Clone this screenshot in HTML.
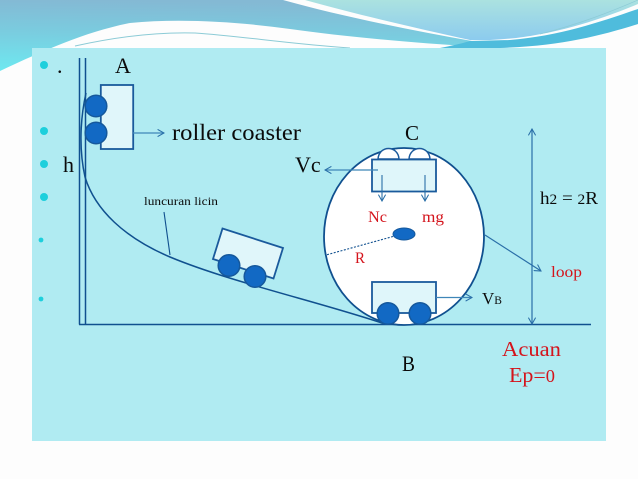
<!DOCTYPE html>
<html>
<head>
<meta charset="utf-8">
<style>
html,body{margin:0;padding:0;background:#fdfdfd;}
svg{display:block;}
text{font-family:"Liberation Serif",serif;}
</style>
</head>
<body>
<svg width="638" height="479" viewBox="0 0 638 479" xmlns="http://www.w3.org/2000/svg">
<defs>
<linearGradient id="g1" x1="0.15" y1="0" x2="0.05" y2="1">
<stop offset="0" stop-color="#84b9d4"/><stop offset="0.45" stop-color="#7accdf"/><stop offset="1" stop-color="#6ee8f0"/>
</linearGradient>
<linearGradient id="g2" x1="0" y1="0" x2="0" y2="1">
<stop offset="0" stop-color="#abe2e0"/><stop offset="1" stop-color="#8ccbee"/>
</linearGradient>
<marker id="a" viewBox="0 0 10 10" refX="9" refY="5" markerWidth="8" markerHeight="8" markerUnits="userSpaceOnUse" orient="auto-start-reverse">
<path d="M1 0.5L9 5L1 9.5" fill="none" stroke="#2a6fa8" stroke-width="1.3"/>
</marker>
</defs>
<rect width="638" height="479" fill="#fdfdfd"/>
<path d="M0 0H283C340 16 410 30 472 41L480 47C400 42 340 36 290 29C240 22 180 18 130 23C85 32 45 50 0 71Z" fill="url(#g1)"/>
<path d="M305 0H638V4C590 24 540 38 490 40H470C415 28 355 14 305 0Z" fill="url(#g2)"/>
<path d="M470 41L510 40C560 36 600 22 638 9V24C600 36 560 46 500 48H440C450 46 460 44 470 41Z" fill="#4fbcdc"/>
<path d="M75 46C120 36 160 32 195 33C240 36 290 44 350 48" fill="none" stroke="#8ccbd6" stroke-width="1"/>
<path d="M540 34C580 24 610 12 638 0" fill="none" stroke="#8ccbd6" stroke-width="0.7"/>
<rect x="32" y="48" width="574" height="393" fill="#b0ebf2"/>

<g fill="#1dcfdc">
<circle cx="44" cy="65" r="4"/><circle cx="44" cy="131" r="4"/><circle cx="44" cy="164" r="4"/><circle cx="44" cy="197" r="4"/>
<circle cx="41" cy="240" r="2.4"/><circle cx="41" cy="299" r="2.4"/>
</g>

<g fill="none" stroke="#10508f" stroke-width="1.5">
<path d="M79.500 58V324.500M85.500 58V324.500M79 324.500H591"/>
<path d="M86 93C80 120 79 150 85 177C95 210 125 238 170 257C230 282 320 302 385 324"/>
<path d="M164 212L170 255" stroke-width="1.100"/>
</g>

<!-- Cart A -->
<rect x="100.800" y="85" width="32.400" height="64" fill="#e0f6fa" stroke="#1a5a9c" stroke-width="1.800"/>
<g fill="#1269c4" stroke="#15589c" stroke-width="1.500">
<circle cx="96" cy="106" r="10.800"/><circle cx="96" cy="133" r="10.800"/>
</g>
<line x1="133" y1="133" x2="164" y2="133" stroke="#3f86b8" stroke-width="1.300" marker-end="url(#a)"/>

<!-- Tilted cart -->
<path d="M222.500 228.500L283 248L273.500 278.500L213 259Z" fill="#e0f6fa" stroke="#1a5a9c" stroke-width="1.800"/>
<g fill="#1269c4" stroke="#15589c" stroke-width="1.500">
<circle cx="229" cy="265.500" r="10.800"/><circle cx="255" cy="276.500" r="10.800"/>
</g>

<!-- Loop -->
<ellipse cx="404" cy="236.500" rx="80" ry="88.500" fill="#fff" stroke="#10508f" stroke-width="1.800"/>
<path d="M378 159C379 145 398 145 399 159ZM409 159C410 145 429 145 430 159Z" fill="#fff" stroke="#1a5a9c" stroke-width="1.500"/>
<rect x="372" y="159.500" width="64" height="32" fill="#dff6fa" stroke="#1a5a9c" stroke-width="1.800"/>
<line x1="378" y1="170" x2="325" y2="170" stroke="#3f86b8" stroke-width="1.200" marker-end="url(#a)"/>
<line x1="382" y1="175" x2="382" y2="201" stroke="#2a6fa8" stroke-width="1.100" marker-end="url(#a)"/>
<line x1="425" y1="175" x2="425" y2="201" stroke="#2a6fa8" stroke-width="1.100" marker-end="url(#a)"/>
<ellipse cx="404" cy="234" rx="11" ry="6" fill="#1269c4" stroke="#15589c"/>
<line x1="393" y1="236.500" x2="326" y2="255" stroke="#10508f" stroke-width="1.100" stroke-dasharray="2 1.500"/>

<!-- Cart B -->
<rect x="372" y="282" width="64" height="31" fill="#dff6fa" stroke="#1a5a9c" stroke-width="1.800"/>
<g fill="#1269c4" stroke="#15589c" stroke-width="1.500">
<circle cx="388" cy="313.500" r="10.800"/><circle cx="420" cy="313.500" r="10.800"/>
</g>
<line x1="436" y1="297.500" x2="472" y2="297.500" stroke="#3f86b8" stroke-width="1.200" marker-end="url(#a)"/>

<line x1="532" y1="129" x2="532" y2="324" stroke="#2a6fa8" stroke-width="1.200" marker-start="url(#a)" marker-end="url(#a)"/>
<line x1="485" y1="235" x2="541" y2="271" stroke="#2a6fa8" stroke-width="1.200" marker-end="url(#a)"/>

<g fill="#0b0b0b">
<text x="57" y="73" font-size="22">.</text>
<text x="115" y="73" font-size="22">A</text>
<text x="172" y="140" font-size="23" textLength="129" lengthAdjust="spacingAndGlyphs">roller coaster</text>
<text x="405" y="140" font-size="21.500" textLength="14" lengthAdjust="spacingAndGlyphs">C</text>
<text x="63" y="172" font-size="22">h</text>
<text x="295" y="172" font-size="22">Vc</text>
<text x="144" y="205" font-size="12" textLength="74" lengthAdjust="spacingAndGlyphs">luncuran licin</text>
<text x="540" y="204" font-size="18" textLength="58" lengthAdjust="spacingAndGlyphs">h<tspan font-size="14.500">2</tspan> = <tspan font-size="14.500">2</tspan>R</text>
<text x="482" y="304" font-size="17">V<tspan font-size="11.500">B</tspan></text>
<text x="402" y="371" font-size="22" textLength="13" lengthAdjust="spacingAndGlyphs">B</text>
</g>
<g fill="#d4141c">
<text x="368" y="222" font-size="15.500" textLength="19" lengthAdjust="spacingAndGlyphs">Nc</text>
<text x="422" y="222" font-size="15.500" textLength="22" lengthAdjust="spacingAndGlyphs">mg</text>
<text x="355" y="263" font-size="16" textLength="10" lengthAdjust="spacingAndGlyphs">R</text>
<text x="551" y="277" font-size="16" textLength="31" lengthAdjust="spacingAndGlyphs">loop</text>
<text x="502" y="356" font-size="21.500" textLength="59" lengthAdjust="spacingAndGlyphs">Acuan</text>
<text x="509" y="382" font-size="21.500" textLength="46" lengthAdjust="spacingAndGlyphs">Ep=<tspan font-size="18">0</tspan></text>
</g>
</svg>
</body>
</html>
